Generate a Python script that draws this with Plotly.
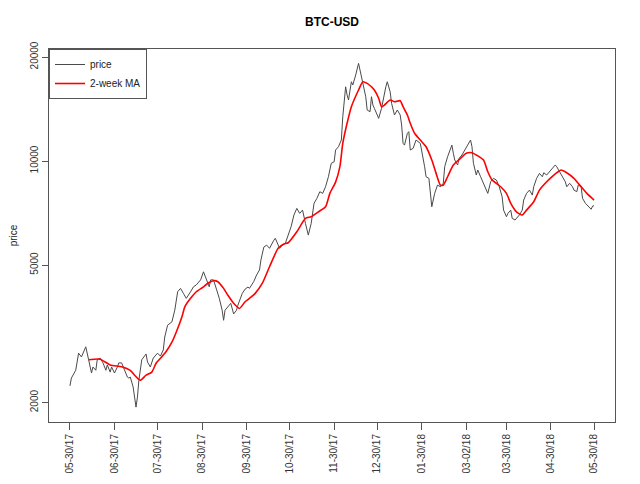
import pandas as pd
import plotly.graph_objects as go

START = "2017-05-30"

# Daily close (day offset from 2017-05-30, USD)
price_day = [0, 1, 4, 6, 8, 11, 13, 15, 16, 18, 19, 21, 23, 25, 26, 28, 29, 31, 33, 34,
             36, 38, 40, 41, 42, 44, 45, 46, 47, 48, 50, 52, 53, 54, 56, 58, 60, 61, 63, 65,
             66, 68, 71, 73, 75, 77, 79, 81, 84, 86, 88, 91, 93, 95, 97, 98, 100, 102, 104, 106,
             107, 108, 110, 112, 114, 116, 117, 120, 122, 124, 125, 128, 130, 132, 133, 135, 137, 139, 142, 143,
             146, 148, 150, 152, 154, 156, 158, 160, 162, 164, 166, 168, 170, 172, 174, 176, 178, 180, 182, 184,
             185, 187, 189, 190, 192, 193, 194, 196, 197, 199, 201, 202, 204, 206, 207, 209, 210, 211, 212, 215,
             217, 218, 220, 221, 223, 224, 226, 228, 230, 231, 232, 233, 235, 236, 237, 239, 241, 244, 245, 247,
             248, 250, 252, 254, 256, 258, 260, 261, 263, 265, 266, 267, 268, 270, 271, 273, 275, 277, 279, 280,
             281, 283, 284, 286, 288, 290, 291, 293, 295, 297, 299, 301, 302, 304, 305, 307, 308, 310, 312, 313,
             315, 316, 318, 320, 322, 323, 325, 327, 329, 330, 332, 334, 336, 338, 339, 341, 343, 345, 346, 348,
             350, 351, 353, 354, 356, 357, 359, 361, 363, 364, 365]
price_val = [2235, 2355, 2480, 2780, 2710, 2900, 2660, 2435, 2535, 2480, 2660, 2690, 2605, 2480, 2570, 2450, 2535, 2435, 2535, 2605,
             2605, 2480, 2370, 2355, 2370, 2220, 2035, 1940, 2075, 2320, 2660, 2745, 2765, 2620, 2535, 2690, 2745, 2780, 2725, 2840,
             3095, 3350, 3425, 3700, 4185, 4280, 4140, 4005, 4185, 4325, 4380, 4530, 4780, 4530, 4325, 4530, 4530, 4260, 4005, 3700,
             3460, 3700, 3785, 3875, 3610, 3700, 3830, 4140, 4260, 4320, 4280, 4480, 4680, 4840, 5170, 5635, 5710, 5590, 5900, 5975,
             5590, 5710, 5780, 6105, 6455, 6980, 7295, 7055, 7210, 6600, 6105, 6600, 7545, 7800, 8150, 8060, 8425, 9005, 9850, 9950,
             10760, 11000, 11500, 13435, 16400, 15530, 15020, 16960, 16600, 17740, 19170, 18340, 16780, 15350, 14050, 13890, 15350, 14520, 14210, 13290,
             14210, 15020, 16400, 16960, 15870, 14690, 13590, 14050, 13590, 12710, 11250, 11120, 12030, 12160, 10760, 10880, 11500, 11250, 10760, 9630,
             9005, 8910, 7375, 8060, 8520, 8425, 8620, 9630, 10290, 10760, 11120, 10530, 10070, 9740, 10180, 10410, 10760, 11120, 11500, 11000,
             9850, 9110, 9420, 9005, 8620, 8240, 8060, 8710, 8910, 8810, 8425, 7880, 7210, 6900, 7055, 7210, 6825, 6750, 6900, 6980,
             7210, 7710, 8060, 8240, 7970, 8425, 8910, 9210, 9005, 9250, 9110, 9310, 9530, 9740, 9630, 9310, 9005, 8710, 8425, 8620,
             8425, 8240, 8150, 8520, 8425, 7800, 7545, 7375, 7250, 7410, 7420]

# 2-week moving average
ma_day = [13, 21, 28, 36, 42, 45, 49, 53, 57, 60, 64, 67, 71, 74, 78, 80, 84, 88, 93, 96,
          100, 103, 107, 110, 114, 118, 122, 125, 129, 134, 139, 145, 149, 152, 158, 164, 168, 173, 178, 181,
          185, 188, 190, 193, 196, 201, 204, 207, 210, 212, 215, 217, 219, 223, 226, 230, 232, 235, 237, 240,
          244, 248, 252, 255, 258, 260, 263, 267, 272, 276, 280, 283, 288, 291, 294, 297, 300, 304, 307, 311,
          315, 318, 323, 327, 332, 337, 340, 342, 346, 351, 355, 360, 365]
ma_val = [2660, 2670, 2570, 2540, 2480, 2400, 2320, 2400, 2450, 2600, 2715, 2810, 2990, 3195, 3545, 3785, 4005, 4185, 4325, 4430,
          4505, 4475, 4280, 4090, 3875, 3745, 3915, 4005, 4140, 4430, 4945, 5590, 5750, 5800, 6240, 6825, 6900, 7130, 7375, 8060,
          8690, 9630, 11250, 12860, 14360, 16050, 16960, 16780, 16400, 16050, 15190, 14360, 14520, 15020, 14850, 14950, 14360, 13590, 12860, 12030,
          11500, 11000, 10070, 9210, 8520, 8520, 9005, 9740, 10180, 10530, 10570, 10410, 10070, 9310, 8810, 8620, 8425, 8060, 7545, 7130,
          6980, 7210, 7625, 8240, 8710, 9110, 9310, 9420, 9250, 8910, 8520, 8060, 7710]

tick_dates = ["2017-05-30", "2017-06-30", "2017-07-30", "2017-08-30", "2017-09-30", "2017-10-30",
              "2017-11-30", "2017-12-30", "2018-01-30", "2018-03-02", "2018-03-30", "2018-04-30", "2018-05-30"]
tick_labels = ["05-30/17", "06-30/17", "07-30/17", "08-30/17", "09-30/17", "10-30/17",
               "11-30/17", "12-30/17", "01-30/18", "03-02/18", "03-30/18", "04-30/18", "05-30/18"]
y_ticks = [2000, 5000, 10000, 20000]

start = pd.Timestamp(START)
px_dates = start + pd.to_timedelta(price_day, unit="D")
ma_dates = start + pd.to_timedelta(ma_day, unit="D")

FONT = "Liberation Sans, Arial, sans-serif"

fig = go.Figure()
fig.add_trace(go.Scatter(x=px_dates, y=price_val, mode="lines", name="price",
                         line=dict(color="#4a4a4a", width=1)))
fig.add_trace(go.Scatter(x=ma_dates, y=ma_val, mode="lines", name="2-week MA",
                         line=dict(color="#ff0000", width=1.6, shape="spline", smoothing=0.6)))

x_lo = start + pd.Timedelta(days=-14.6)
x_hi = start + pd.Timedelta(days=379.6)

fig.update_layout(
    width=640, height=484,
    margin=dict(l=41, r=33, t=41, b=70),
    paper_bgcolor="white", plot_bgcolor="white",
    font=dict(family=FONT, size=10, color="#222222"),
    title=dict(text="<b>BTC-USD</b>", x=0.5, xref="paper", y=1 - 14 / 484, yanchor="middle",
               font=dict(size=12, color="#000000"), automargin=False),
    showlegend=True,
    legend=dict(x=0, y=1, xanchor="left", yanchor="top", bgcolor="white",
                bordercolor="#555555", borderwidth=1, font=dict(size=10),
                itemwidth=30, tracegroupgap=0),
)
fig.update_xaxes(type="date", range=[x_lo, x_hi], tickmode="array",
                 tickvals=list(pd.to_datetime(tick_dates)), ticktext=tick_labels,
                 tickangle=-90, ticks="outside", ticklen=7, tickcolor="#555555",
                 showline=True, linecolor="#555555", mirror=True, showgrid=False, zeroline=False,
                 tickfont=dict(size=10, color="#333333"), automargin=False)
fig.update_yaxes(type="log", range=[3.2448, 4.3242], tickmode="array",
                 tickvals=y_ticks, ticktext=[str(v) for v in y_ticks],
                 tickangle=-90, ticks="outside", ticklen=6, tickcolor="#555555",
                 showline=True, linecolor="#555555", mirror=True, showgrid=False, zeroline=False,
                 tickfont=dict(size=10, color="#333333"), automargin=False,
                 title=dict(text="price", font=dict(size=10, color="#222222"), standoff=19))

fig.write_html("out.html")
